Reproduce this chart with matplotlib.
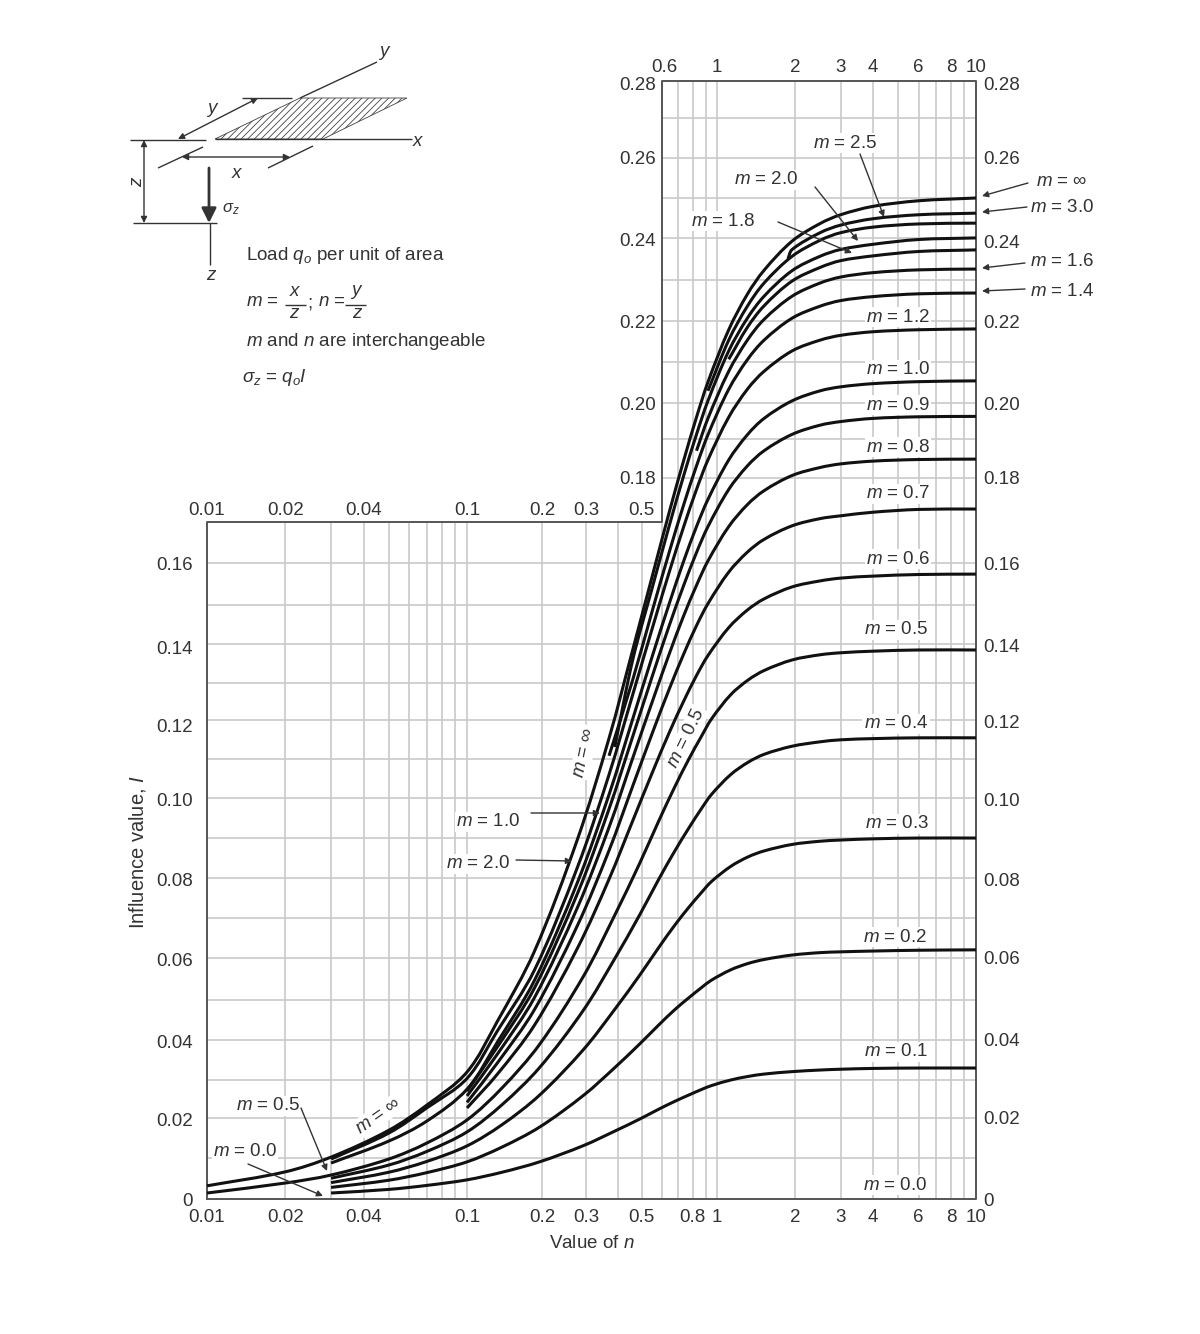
import numpy as np
import matplotlib
matplotlib.use('Agg')
import matplotlib.pyplot as plt
from matplotlib.patches import Polygon, PathPatch
from matplotlib.path import Path
from matplotlib.ticker import NullLocator
from matplotlib.transforms import IdentityTransform

plt.rcParams['font.family'] = ['Liberation Sans', 'DejaVu Sans']
plt.rcParams['mathtext.fontset'] = 'custom'
plt.rcParams['mathtext.rm'] = 'Liberation Sans'
plt.rcParams['mathtext.it'] = 'Liberation Sans:italic'
plt.rcParams['hatch.linewidth'] = 0.6

# n positions the curves were read at
n_vals = [0.01, 0.02, 0.03, 0.05, 0.07, 0.1, 0.132, 0.186, 0.277, 0.37, 0.46, 0.552, 0.644, 0.736, 0.828, 0.92,
          1.11, 1.31, 1.52, 1.95, 2.5, 3, 4, 6, 10]
# the low curves sit a little further right in the middle part
n_low = [0.01, 0.02, 0.03, 0.05, 0.07, 0.1, 0.138, 0.195, 0.293, 0.39, 0.49, 0.585, 0.68, 0.775, 0.865, 0.95,
         1.13, 1.32, 1.525, 1.95, 2.5, 3, 4, 6, 10]

# influence values, each curve starts at a different n
I_01 = [.0015, .0024, .0034, .0048, .0067, .0093, .0134, .0170, .0200, .0225, .0245, .0261, .0274, .0284, .0298, .0307, .0313, .0319, .0323, .0325, .0327, .0328, .0328]
I_02 = [.0029, .0047, .0066, .0093, .0130, .0180, .0260, .0329, .0388, .0436, .0475, .0505, .0529, .0548, .0574, .0590, .0600, .0611, .0617, .0619, .0621, .0623, .0624]
I_03 = [.0041, .0067, .0094, .0133, .0186, .0260, .0375, .0475, .0560, .0630, .0687, .0732, .0767, .0795, .0833, .0857, .0872, .0888, .0896, .0899, .0902, .0904, .0904]
I_04 = [.0052, .0085, .0119, .0168, .0236, .0329, .0474, .0602, .0711, .0801, .0873, .0931, .0977, .1013, .1063, .1094, .1114, .1134, .1145, .1150, .1153, .1155, .1155]
I_05 = [.0015, .0040, .0060, .0100, .0140, .0198, .0278, .0387, .0559, .0711, .0840, .0947, .1034, .1104, .1158, .1202, .1263, .1300, .1324, .1350, .1363, .1368, .1372, .1375, .1375]
I_06 = [.0228, .0312, .0435, .0629, .0801, .0947, .1069, .1168, .1247, .1311, .1361, .1431, .1475, .1503, .1533, .1548, .1555, .1560, .1564, .1565]
I_07 = [.0242, .0340, .0474, .0686, .0873, .1034, .1168, .1277, .1365, .1436, .1491, .1570, .1620, .1652, .1686, .1704, .1711, .1720, .1727, .1728]
I_08 = [.0258, .0362, .0504, .0731, .0931, .1104, .1247, .1365, .1461, .1537, .1598, .1684, .1739, .1774, .1812, .1832, .1841, .1848, .1852, .1853]
I_09 = [.0270, .0380, .0528, .0766, .0977, .1158, .1311, .1436, .1537, .1619, .1684, .1777, .1836, .1874, .1915, .1938, .1947, .1955, .1959, .1960]
I_10 = [.0090, .0145, .0195, .0275, .0392, .0547, .0794, .1013, .1202, .1361, .1491, .1598, .1684, .1752, .1851, .1914, .1955, .1999, .2024, .2034, .2042, .2047, .2049]
I_12 = [.0100, .0165, .0228, .0302, .0420, .0573, .0832, .1063, .1263, .1431, .1570, .1684, .1777, .1851, .1958, .2028, .2073, .2124, .2151, .2163, .2172, .2177, .2179]
I_14 = [.1110, .1300, .1475, .1620, .1739, .1836, .1914, .2028, .2102, .2151, .2206, .2236, .2250, .2260, .2267, .2269]
I_16 = [.1874, .1955, .2073, .2151, .2203, .2261, .2294, .2309, .2320, .2327, .2329]
I_18 = [.2103, .2183, .2237, .2299, .2333, .2350, .2362, .2373, .2377]
I_20 = [.1132, .1350, .1533, .1686, .1812, .1915, .1999, .2124, .2206, .2261, .2325, .2361, .2378, .2391, .2403, .2407]
I_25 = [.2024, .2151, .2236, .2294, .2361, .2401, .2420, .2434, .2442, .2444]
I_30 = [.2355, .2378, .2420, .2439, .2455, .2465, .2469]
I_inf = [.0033, .0068, .0105, .0172, .0235, .0318, .0444, .0620, .0902, .1154, .1375, .1562, .1720, .1850, .1958, .2046, .2177, .2266, .2326, .2399, .2443, .2465, .2486, .2500, .2507]
n_20 = [0.39] + n_vals[10:]
n_30 = [1.88] + n_vals[19:]

x_grid = [0.02, 0.03, 0.04, 0.05, 0.06, 0.07, 0.08, 0.09, 0.1, 0.2, 0.3, 0.4, 0.5, 0.6, 0.7, 0.8, 0.9, 1, 2, 3, 4, 5, 6, 7, 8, 9]
# grid rows as drawn, they are not quite evenly spaced in the original
y_grid = [.0103, .0203, .0298, .0398, .0498, .0604, .0704, .0804, .0904, .1004, .1102, .1200, .1292, .1390, .1488, .1593,
          .1806, .1903, .1994, .2096, .2199, .2302, .2407, .2507, .2607, .2707]
step_y = 0.1696

bottom_ticks = [0.01, 0.02, 0.04, 0.1, 0.2, 0.3, 0.5, 0.8, 1, 2, 3, 4, 6, 8, 10]
bottom_labels = ['0.01', '0.02', '0.04', '0.1', '0.2', '0.3', '0.5', '0.8', '1', '2', '3', '4', '6', '8', '10']
mid_ticks = [0.01, 0.02, 0.04, 0.1, 0.2, 0.3, 0.5]
mid_labels = ['0.01', '0.02', '0.04', '0.1', '0.2', '0.3', '0.5']
top_ticks = [0.615, 1, 2, 3, 4, 6, 8, 10]
top_labels = ['0.6', '1', '2', '3', '4', '6', '8', '10']
left_labels = ['0', '0.02', '0.04', '0.06', '0.08', '0.10', '0.12', '0.14', '0.16']
upper_labels = ['0.18', '0.20', '0.22', '0.24', '0.26', '0.28']
right_labels = ['0', '0.02', '0.04', '0.06', '0.08', '0.10', '0.12', '0.14', '0.16', '0.18', '0.20', '0.22', '0.24', '0.26', '0.28']

left_px = [1199, 1120, 1042, 960, 880, 800, 725, 647, 563]
upper_px = [478, 403, 321, 239, 158, 83]
right_px = [1199, 1118, 1040, 958, 879, 799, 721, 645, 563, 478, 403, 321, 241, 158, 84]

TEXT = '#333333'
GRID = '#c9c9c9'
FS = 13.5
NUDGE = 2  # centre of the text box sits a bit above the glyphs


def fwd(x):
    return np.interp(np.log10(np.clip(x, 1e-6, None)), [-2, -1, 0, 1], [0, 260, 510, 769])


def inv(p):
    return 10 ** np.interp(p, [0, 260, 510, 769], [-2, -1, 0, 1])


fig = plt.figure(figsize=(12, 13.34), dpi=100)
ax = fig.add_axes([207 / 1200, 1 - 1199 / 1334, 769 / 1200, 1118 / 1334])
ax.set_xscale('function', functions=(fwd, inv))
ax.set_xlim(0.01, 10)
ax.set_ylim(0, 0.28)
ax.xaxis.set_major_locator(NullLocator())
ax.xaxis.set_minor_locator(NullLocator())
ax.yaxis.set_major_locator(NullLocator())
for s in ax.spines.values():
    s.set_visible(False)
ax.patch.set_visible(False)

# overlay in pixel coordinates for the sketch and the notes
ov = fig.add_axes([0, 0, 1, 1])
ov.set_xlim(0, 1200)
ov.set_ylim(1334, 0)
ov.axis('off')
ov.patch.set_visible(False)

# stepped grid
for x in x_grid:
    ax.plot([x, x], [0, step_y if x < 0.6 else 0.28], color=GRID, lw=1.2, zorder=1)
for y in y_grid:
    ax.plot([0.01 if y < step_y else 0.6, 10], [y, y], color=GRID, lw=1.2, zorder=1)
ax.plot([0.01, 10, 10, 0.6, 0.6, 0.01, 0.01], [0, 0, 0.28, 0.28, step_y, step_y, 0], color='#555555', lw=1.4, zorder=2, clip_on=False)


def smooth_curve(n, vals):
    # run a bezier through the read points so the knees are not angular
    pts = ax.transData.transform(np.column_stack([n, vals]))
    d = np.gradient(pts, axis=0)
    d = d / np.linalg.norm(d, axis=1, keepdims=True)
    verts = [pts[0]]
    codes = [Path.MOVETO]
    for i in range(len(pts) - 1):
        step = np.linalg.norm(pts[i + 1] - pts[i]) / 3
        verts += [pts[i] + d[i] * step, pts[i + 1] - d[i + 1] * step, pts[i + 1]]
        codes += [Path.CURVE4] * 3
    ax.add_patch(PathPatch(Path(verts, codes), fc='none', ec='#111111', lw=2.2, capstyle='butt', joinstyle='round',
                           transform=IdentityTransform(), zorder=4, clip_on=False))


curves = [
    (n_low[2:], I_01), (n_low[2:], I_02), (n_low[2:], I_03), (n_low[2:], I_04), (n_low, I_05),
    (n_vals[5:], I_06), (n_vals[5:], I_07), (n_vals[5:], I_08), (n_vals[5:], I_09), (n_vals[2:], I_10),
    (n_vals[2:], I_12), (n_vals[9:], I_14), (n_vals[14:], I_16), (n_vals[16:], I_18), (n_20, I_20),
    (n_vals[15:], I_25), (n_30, I_30), (n_vals, I_inf),
]
for n, vals in curves:
    smooth_curve(n, vals)


def label(x, y, s, **kw):
    kw.setdefault('fontsize', FS)
    kw.setdefault('color', TEXT)
    kw.setdefault('ha', 'center')
    kw.setdefault('va', 'center')
    ov.text(x, y + NUDGE, s, **kw)


def note(x, y, s, **kw):
    # sits over the grid but under the curves
    ax.text(x, y + NUDGE, s, transform=ov.transData, fontsize=FS, color=TEXT, ha='center', va='center', zorder=3, clip_on=False,
            bbox=dict(fc='white', ec='none', pad=1), **kw)


for v, s in zip(bottom_ticks, bottom_labels):
    ax.text(v, -0.0046, s, fontsize=FS, color=TEXT, ha='center', va='center', clip_on=False)
for v, s in zip(mid_ticks, mid_labels):
    ax.text(v, 0.1725, s, fontsize=FS, color=TEXT, ha='center', va='center', clip_on=False)
for v, s in zip(top_ticks, top_labels):
    ax.text(v, 0.2835, s, fontsize=FS, color=TEXT, ha='center', va='center', clip_on=False)
for p, s in zip(left_px, left_labels):
    label(193, p, s, ha='right')
for p, s in zip(upper_px, upper_labels):
    label(656, p, s, ha='right')
for p, s in zip(right_px, right_labels):
    label(983, p, s, ha='left')

label(592, 1241, 'Value of $n$')
label(137, 850, 'Influence value, $I$', rotation=90, fontsize=14.5)

# m labels
note(898, 315, '$m$ = 1.2')
note(898, 368, '$m$ = 1.0')
note(898, 403, '$m$ = 0.9')
note(898, 445, '$m$ = 0.8')
note(898, 492, '$m$ = 0.7')
note(898, 557, '$m$ = 0.6')
note(896, 628, '$m$ = 0.5')
note(896, 722, '$m$ = 0.4')
note(897, 822, '$m$ = 0.3')
note(895, 935, '$m$ = 0.2')
note(896, 1050, '$m$ = 0.1')
note(895, 1183, '$m$ = 0.0')
note(845, 141, '$m$ = 2.5')
note(766, 178, '$m$ = 2.0')
note(723, 219, '$m$ = 1.8')
note(488, 820, '$m$ = 1.0')
note(478, 862, '$m$ = 2.0')
note(268, 1104, '$m$ = 0.5')
note(245, 1150, '$m$ = 0.0')
note(584, 750, '$m$ = ∞', rotation=78)
note(686, 736, '$m$ = 0.5', rotation=64)
note(378, 1114, '$m$ = ∞', rotation=35)
label(1062, 179, '$m$ = ∞')
label(1062, 205, '$m$ = 3.0')
label(1062, 259, '$m$ = 1.6')
label(1062, 290, '$m$ = 1.4')


def arrow(start, end, style='-|>', lw=1.0, color='#333333', ms=9):
    ov.annotate('', xy=end, xytext=start, arrowprops=dict(arrowstyle=style, color=color, lw=lw, mutation_scale=ms, shrinkA=0, shrinkB=0))


arrow((860, 154), (884, 217))
arrow((815, 187), (858, 241))
arrow((778, 222), (852, 253))
arrow((1028, 183), (982, 196))
arrow((1027, 207), (982, 212))
arrow((1025, 263), (982, 268))
arrow((1025, 289), (982, 291))
arrow((531, 813), (600, 813))
arrow((516, 860), (572, 861))
arrow((301, 1108), (327, 1171))
arrow((248, 1164), (323, 1196))

# sketch of the loaded area
ov.add_patch(Polygon([(215, 139), (300, 98), (407, 98), (323, 139)], closed=True, fc='white', ec='#444444', lw=0.6, hatch='/////'))


def seg(p, q, lw=1.0):
    ov.plot([p[0], q[0]], [p[1], q[1]], color='#333333', lw=lw, solid_capstyle='butt')


seg((300, 98), (377, 62))
seg((215, 139), (412, 139))
seg((130, 140), (206, 140))
seg((242, 98), (292, 98))
seg((158, 168), (203, 147))
seg((268, 168), (313, 146))
seg((133, 223), (217, 223))
seg((210, 223), (210, 265))
arrow((178, 139), (258, 98), style='<|-|>')
arrow((182, 157), (290, 157), style='<|-|>')
arrow((144, 140), (144, 223), style='<|-|>')
arrow((209, 168), (209, 223), lw=2.0, ms=22)

label(385, 51, '$y$')
label(418, 139, '$x$')
label(213, 108, '$y$')
label(237, 171, '$x$')
label(137, 179, '$z$', rotation=90)
label(212, 274, '$z$')
label(231, 207, r'$\sigma_z$', fontsize=12)
label(246, 254, 'Load $q_o$ per unit of area', ha='left')
label(246, 300, '$m$ =', ha='left')
label(295, 290, '$x$')
seg((285, 305), (306, 305))
label(295, 312, '$z$')
label(310, 301, ';')
label(318, 300, '$n$ =', ha='left')
label(357, 290, '$y$')
seg((345, 305), (366, 305))
label(358, 312, '$z$')
label(246, 339, '$m$ and $n$ are interchangeable', ha='left')
label(242, 376, r'$\sigma_z$ = $q_oI$', ha='left')

fig.savefig('out.png', dpi=100)
